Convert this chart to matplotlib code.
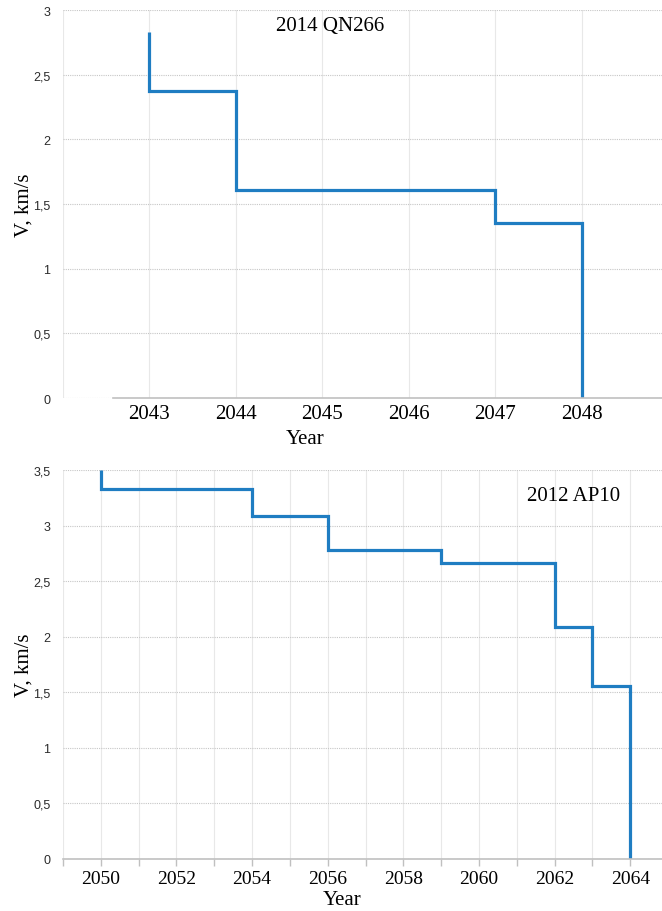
import matplotlib
matplotlib.use("Agg")
import matplotlib.pyplot as plt
from matplotlib.ticker import MultipleLocator, FuncFormatter

# Step data
qn_years = [2043, 2044, 2047, 2048]
qn_speeds = [2.37, 1.61, 1.35]
qn_start = 2.83

ap_years = [2050, 2054, 2056, 2059, 2062, 2063, 2064]
ap_speeds = [3.33, 3.09, 2.78, 2.66, 2.09, 1.56]
ap_start = 3.5

BLUE = "#1f7dc2"
SERIF = "Liberation Serif"
SANS = "Liberation Sans"

W, H = 662, 912
fig = plt.figure(figsize=(W / 100, H / 100), dpi=100)


def comma(v, pos):
    s = f"{v:g}"
    return s.replace(".", ",")


def style_axes(ax, ymax):
    ax.set_ylim(0, ymax)
    ax.yaxis.set_major_locator(MultipleLocator(0.5))
    ax.yaxis.set_major_formatter(FuncFormatter(comma))
    ax.tick_params(axis="y", length=0, pad=9, labelsize=9, labelcolor="#2b2b2b")
    for lab in ax.get_yticklabels():
        lab.set_family(SANS)
    ax.grid(axis="y", which="major", color="#c6c6c6", linestyle=(0, (1, 1)), linewidth=0.8)
    ax.grid(axis="x", which="both", color="#e8e8e8", linestyle="-", linewidth=0.8)
    for s in ["top", "right", "left"]:
        ax.spines[s].set_visible(False)
    ax.spines["bottom"].set_color("#c0c0c0")
    ax.spines["bottom"].set_linewidth(1.2)
    ax.set_axisbelow(True)
    ax.set_ylabel("V, km/s", family=SERIF, fontsize=15, labelpad=0)


def draw_steps(ax, years, speeds, start):
    xs = [years[0]] + list(years)
    ys = [start] + list(speeds) + [0]
    ax.plot(xs, ys, drawstyle="steps-post", color=BLUE, linewidth=2.3,
            solid_capstyle="butt", solid_joinstyle="miter")


# ── Top panel: 2014 QN266 ───────────────────────────────────────────────
left = 63 / W
width = (668 - 63) / W
ax1 = fig.add_axes([left, (H - 399) / H, width, 388 / H])
ax1.set_xlim(2042, 2049)
ax1.set_xticks(range(2042, 2050))
ax1.set_xticklabels([""] + [str(y) for y in range(2043, 2049)] + [""])
ax1.tick_params(axis="x", length=0, pad=4, labelsize=15)
for lab in ax1.get_xticklabels():
    lab.set_family(SERIF)
style_axes(ax1, 3)
ax1.spines["bottom"].set_bounds(2042.58, 2049)
draw_steps(ax1, qn_years, qn_speeds, qn_start)
ax1.set_xlabel("Year", family=SERIF, fontsize=15, labelpad=2)
ax1.xaxis.set_label_coords((305 - 63) / (668 - 63), -0.08)
ax1.text((330 - 63) / (668 - 63), 0.96, "2014 QN266", transform=ax1.transAxes,
         family=SERIF, fontsize=15, ha="center", va="center")

# ── Bottom panel: 2012 AP10 ─────────────────────────────────────────────
ax2 = fig.add_axes([left, (H - 860) / H, width, 389 / H])
ax2.set_xlim(2049, 2065)
ax2.xaxis.set_major_locator(MultipleLocator(2))
ax2.xaxis.set_minor_locator(MultipleLocator(1))
ax2.set_xticks(range(2050, 2065, 2))
ax2.tick_params(axis="x", which="both", length=5, width=1, color="#c0c0c0",
                pad=3, labelsize=14)
for lab in ax2.get_xticklabels():
    lab.set_family(SERIF)
style_axes(ax2, 3.5)
draw_steps(ax2, ap_years, ap_speeds, ap_start)
ax2.set_xlabel("Year", family=SERIF, fontsize=15, labelpad=2)
ax2.xaxis.set_label_coords((342 - 63) / (668 - 63), -0.079)
ax2.text((574 - 63) / (668 - 63), 0.935, "2012 AP10", transform=ax2.transAxes,
         family=SERIF, fontsize=15, ha="center", va="center")

fig.savefig("out.png", dpi=100, facecolor="white")
